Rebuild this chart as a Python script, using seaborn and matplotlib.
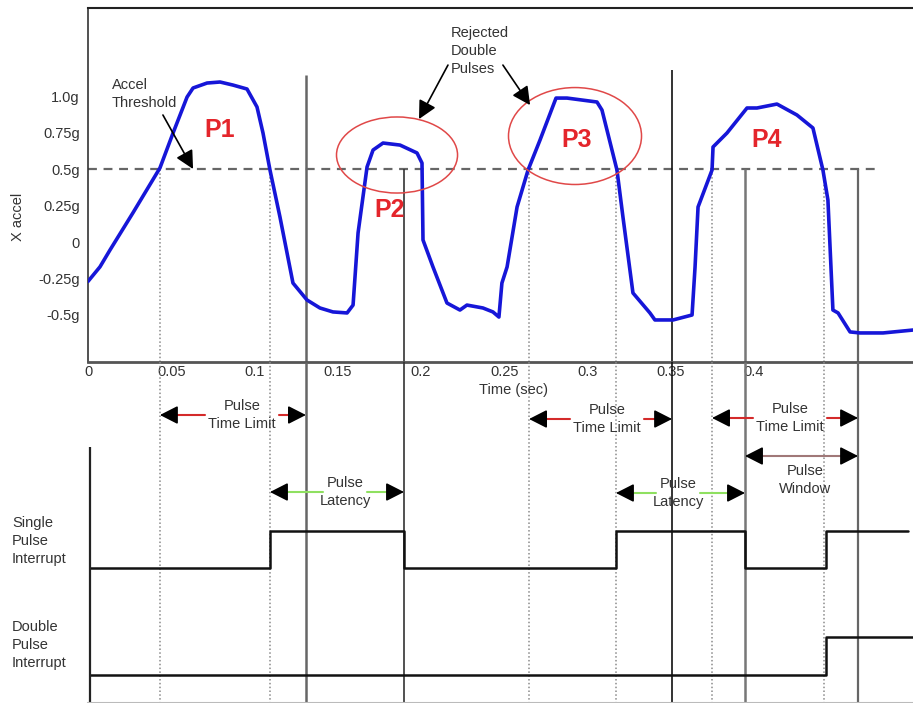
import matplotlib
matplotlib.use("Agg")
import matplotlib.pyplot as plt
from matplotlib.patches import Ellipse
import seaborn as sns

# acceleration trace (time in s, accel in g)
time_s = [0.0, 0.0072, 0.0132, 0.0270, 0.0432, 0.0511, 0.0595, 0.0631, 0.0715, 0.0793,
          0.0871, 0.0955, 0.1015, 0.1051, 0.1093, 0.1153, 0.1231, 0.1315, 0.1393, 0.1471,
          0.1556, 0.1592, 0.1622, 0.1676, 0.1712, 0.1772, 0.1874, 0.1976, 0.2006, 0.2012,
          0.2072, 0.2156, 0.2234, 0.2276, 0.2372, 0.2432, 0.2468, 0.2486, 0.2517, 0.2577,
          0.2643, 0.2715, 0.2811, 0.2877, 0.3057, 0.3087, 0.3177, 0.3213, 0.3273, 0.3375,
          0.3405, 0.3514, 0.3628, 0.3646, 0.3664, 0.3748, 0.3754, 0.3838, 0.3958, 0.4018,
          0.4138, 0.4258, 0.4354, 0.4414, 0.4444, 0.4474, 0.4505, 0.4577, 0.4637, 0.4775, 0.4955]
accel_g = [-0.27, -0.17, -0.055, 0.20, 0.507, 0.747, 0.993, 1.055, 1.089, 1.096,
           1.075, 1.048, 0.925, 0.747, 0.493, 0.171, -0.281, -0.397, -0.452, -0.479,
           -0.486, -0.432, 0.062, 0.514, 0.630, 0.678, 0.664, 0.610, 0.541, 0.014,
           -0.171, -0.418, -0.466, -0.432, -0.452, -0.479, -0.514, -0.281, -0.171, 0.240,
           0.493, 0.699, 0.986, 0.986, 0.959, 0.904, 0.493, 0.171, -0.349, -0.486,
           -0.534, -0.534, -0.500, -0.171, 0.240, 0.493, 0.651, 0.747, 0.918, 0.918,
           0.945, 0.870, 0.781, 0.493, 0.288, -0.466, -0.486, -0.616, -0.623, -0.623, -0.603]

threshold_g = 0.5
x_ticks = [0, 0.05, 0.1, 0.15, 0.2, 0.25, 0.3, 0.35, 0.4]
x_tick_labels = ["0", "0.05", "0.1", "0.15", "0.2", "0.25", "0.3", "0.35", "0.4"]
y_ticks = [1.0, 0.75, 0.5, 0.25, 0, -0.25, -0.5]
y_tick_labels = ["1.0g", "0.75g", "0.5g", "0.25g", "0", "-0.25g", "-0.5g"]

# threshold crossings (dotted) and timer edges (solid)
cross_t = [0.0432, 0.1093, 0.2649, 0.3171, 0.3748, 0.4420]
edge_t = [0.1309, 0.1898, 0.3508, 0.3946, 0.4625]
edge_top_g = [1.144, 0.5, 1.178, 0.5, 0.5]

pulse_names = ["P1", "P2", "P3", "P4"]
pulse_t = [0.0793, 0.1814, 0.2937, 0.4078]
pulse_g = [0.767, 0.219, 0.699, 0.699]

# interrupt signals (step-post)
single_t = [0.0012, 0.1093, 0.1898, 0.3171, 0.3946, 0.4435, 0.4925]
single_state = [0, 1, 0, 1, 0, 1, 1]
double_t = [0.0012, 0.4435, 0.4955]
double_state = [0, 1, 1]

sns.set_theme(style="white")
plt.rcParams['font.family'] = ['Liberation Sans', 'DejaVu Sans']
txt = '#333333'

fig = plt.figure(figsize=(9.13, 7.03), dpi=100)
ax = fig.add_axes([88/913, 1-362/703, 825/913, 354/703])
lo = fig.add_axes([88/913, 0, 825/913, 341/703], sharex=ax)
lo.patch.set_alpha(0)

ax.set_xlim(0, 0.4955)
ax.set_ylim(-0.822, 1.603)
lo.set_ylim(703, 362)   # lower panel laid out in pixel rows

# ---- top panel
ax.plot([0, 0.474], [threshold_g, threshold_g], color='#666666', lw=1.6,
        linestyle=(0, (4, 3)), zorder=2)
ax.vlines(cross_t, -0.822, threshold_g, colors='#8a8a8a', lw=1.1, linestyles=(0, (1, 1.5)))
lo.vlines(cross_t, 362, 703, colors='#8a8a8a', lw=1.1, linestyles=(0, (1, 1.5)))
edge_col = ['#666666', '#333333', '#111111', '#777777', '#666666']
edge_lw = [1.8, 1.2, 1.2, 1.8, 1.6]
for t, top, c, w in zip(edge_t, edge_top_g, edge_col, edge_lw):
    ax.vlines(t, -0.822, top, colors=c, lw=w)
    lo.vlines(t, 362, 703, colors=c, lw=w)

sns.lineplot(x=time_s, y=accel_g, ax=ax, color='#1616d8', lw=2.6,
             estimator=None, sort=False, zorder=4, solid_joinstyle='round')

ax.add_patch(Ellipse((0.1856, 0.596), 0.0727, 0.521, fill=False, ec='#e04848', lw=1.1, zorder=5))
ax.add_patch(Ellipse((0.2925, 0.726), 0.0799, 0.664, fill=False, ec='#e04848', lw=1.1, zorder=5))
for name, t, g in zip(pulse_names, pulse_t, pulse_g):
    ax.text(t, g, name, color='#e4252b', fontsize=18, fontweight='bold',
            ha='center', va='center', zorder=6)

head = dict(arrowstyle='-|>,head_length=0.55,head_width=0.28', color='black',
            lw=1.2, mutation_scale=20, shrinkA=0, shrinkB=0)
ax.text(0.0144, 1.123, "Accel\nThreshold", ha='left', va='top', fontsize=10.5,
        color=txt, linespacing=1.35)
ax.annotate('', xy=(0.0631, 0.5), xytext=(0.045, 0.87), arrowprops=head, zorder=6)
ax.text(0.218, 1.479, "Rejected\nDouble\nPulses", ha='left', va='top', fontsize=10.5,
        color=txt, linespacing=1.35)
ax.annotate('', xy=(0.1988, 0.842), xytext=(0.2162, 1.212), arrowprops=head, zorder=6)
ax.annotate('', xy=(0.2655, 0.938), xytext=(0.2492, 1.212), arrowprops=head, zorder=6)

ax.set_xticks(x_ticks)
ax.set_xticklabels(x_tick_labels)
ax.set_yticks(y_ticks)
ax.set_yticklabels(y_tick_labels)
ax.tick_params(axis='x', length=0, pad=2, labelsize=10.5, colors=txt)
ax.tick_params(axis='y', length=0, pad=6, labelsize=10.5, colors=txt)
ax.spines['right'].set_visible(False)
ax.spines['left'].set_color('#333333'); ax.spines['left'].set_linewidth(1.2)
ax.spines['top'].set_color('#222222'); ax.spines['top'].set_linewidth(1.5)
ax.spines['bottom'].set_color('#555555'); ax.spines['bottom'].set_linewidth(2)
fig.text(18/913, 1-217/703, "X accel", rotation=90, ha='center', va='center',
         fontsize=10.5, color=txt)

# ---- lower panel: timing
lo.text(0.2553, 390, "Time (sec)", ha='center', va='center', fontsize=10.5, color=txt)

spans = [
    (0.0432, 0.1309, 415, "Pulse\nTime Limit", 0.0925, '#d42a2a', 0.022),
    (0.1093, 0.1898, 492, "Pulse\nLatency", 0.1544, '#8fe060', 0.013),
    (0.2649, 0.3508, 419, "Pulse\nTime Limit", 0.3117, '#d42a2a', 0.022),
    (0.3171, 0.3946, 493, "Pulse\nLatency", 0.3544, '#8fe060', 0.013),
    (0.3748, 0.4625, 418, "Pulse\nTime Limit", 0.4216, '#d42a2a', 0.022),
]
hw = 0.0096
for t0, t1, y, label, tc, col, gap in spans:
    lo.plot([t0 + hw, tc - gap], [y, y], color=col, lw=1.5)
    lo.plot([tc + gap, t1 - hw], [y, y], color=col, lw=1.5)
    lo.annotate('', xy=(t0, y), xytext=(t0 + hw, y), arrowprops=head)
    lo.annotate('', xy=(t1, y), xytext=(t1 - hw, y), arrowprops=head)
    lo.text(tc, y, label, ha='center', va='center', fontsize=10.5, color=txt,
            linespacing=1.35)

win0, win1, win_y = 0.3946, 0.4625, 456
lo.plot([win0 + hw, win1 - hw], [win_y, win_y], color='#a07878', lw=1.5)
lo.annotate('', xy=(win0, win_y), xytext=(win0 + hw, win_y), arrowprops=head)
lo.annotate('', xy=(win1, win_y), xytext=(win1 - hw, win_y), arrowprops=head)
lo.text(0.4306, 480, "Pulse\nWindow", ha='center', va='center', fontsize=10.5,
        color=txt, linespacing=1.35)

single_lvl = [568 - 37 * s for s in single_state]
double_lvl = [675 - 38 * s for s in double_state]
sns.lineplot(x=single_t, y=single_lvl, ax=lo, color='#111111', lw=1.8,
             drawstyle='steps-post', estimator=None, sort=False)
sns.lineplot(x=double_t, y=double_lvl, ax=lo, color='#111111', lw=1.8,
             drawstyle='steps-post', estimator=None, sort=False)
lo.vlines(0.0012, 447, 703, colors='#222222', lw=1.6)

fig.text(12/913, 1-516/703, "Single\nPulse\nInterrupt", ha='left', va='top',
         fontsize=10.5, color=txt, linespacing=1.35)
fig.text(12/913, 1-620/703, "Double\nPulse\nInterrupt", ha='left', va='top',
         fontsize=10.5, color=txt, linespacing=1.35)

lo.tick_params(labelbottom=False, labelleft=False, length=0)
for s in ['left', 'right', 'top']:
    lo.spines[s].set_visible(False)
lo.spines['bottom'].set_color('#bbbbbb')
lo.spines['bottom'].set_linewidth(1.5)
lo.set_xlabel('')
lo.set_ylabel('')

fig.savefig("out.png", dpi=100)
